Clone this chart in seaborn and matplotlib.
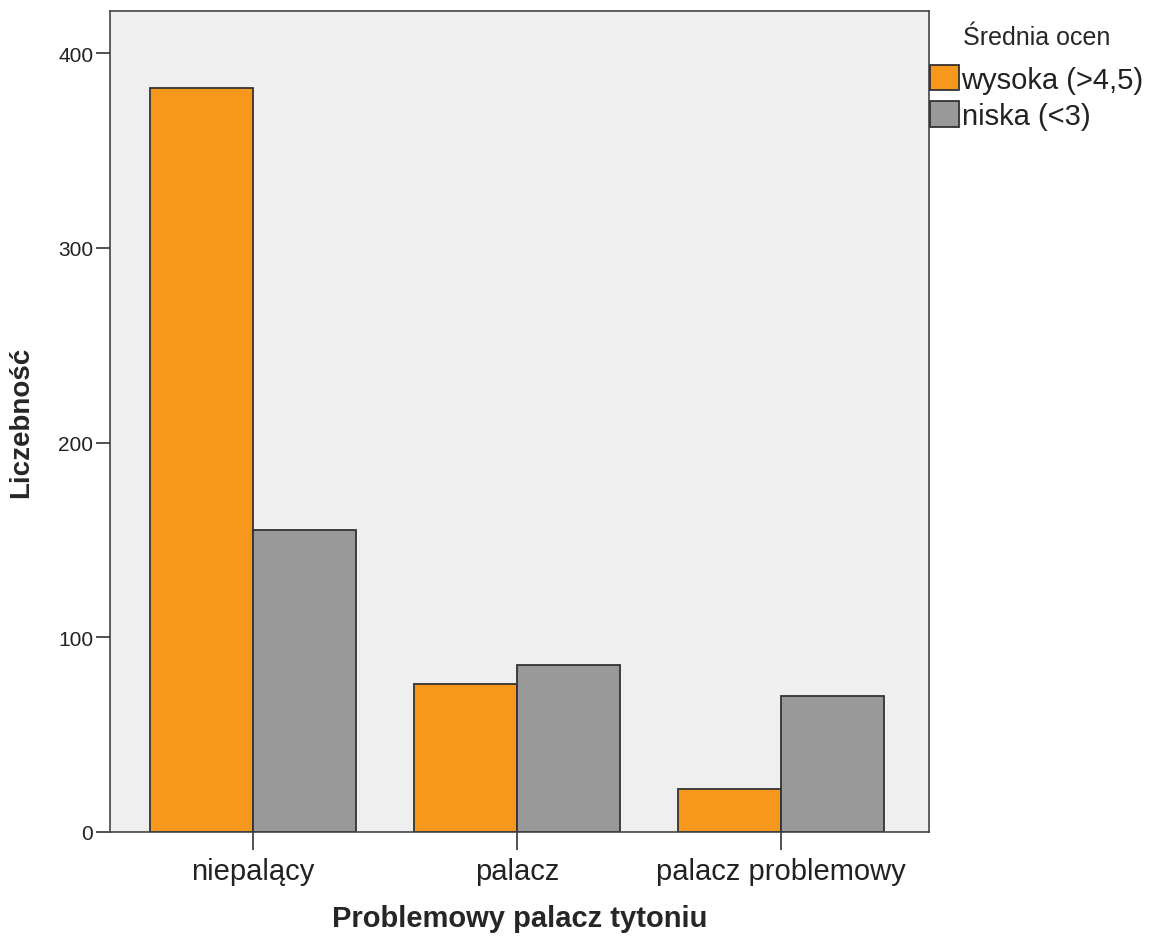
import pandas as pd
import matplotlib
import matplotlib.pyplot as plt
import seaborn as sns

matplotlib.use('Agg')

# dane
kategorie = ["niepalący", "palacz", "palacz problemowy"]
grupy = ["wysoka (>4,5)", "niska (<3)"]
wysoka = [382, 76, 22]
niska = [155, 86, 70]

df = pd.DataFrame({
    "Problemowy palacz tytoniu": kategorie * 2,
    "Średnia ocen": [grupy[0]] * 3 + [grupy[1]] * 3,
    "Liczebność": wysoka + niska,
})

sns.set_style("ticks")
plt.rcParams['font.family'] = ['Liberation Sans', 'DejaVu Sans']

fig = plt.figure(figsize=(11.55, 9.37), dpi=100)
ax = fig.add_axes([0.0952, 0.111, 0.709, 0.876])
ax.set_facecolor("#EFEFEF")

sns.barplot(data=df, x="Problemowy palacz tytoniu", y="Liczebność", hue="Średnia ocen",
            palette=["#F7981D", "#999999"], saturation=1, width=0.78, gap=0,
            edgecolor="#333333", linewidth=1.3, ax=ax)

ax.set_ylim(0, 421.6)
ax.set_xlim(-0.542, 2.56)
ax.set_yticks([0, 100, 200, 300, 400])
ax.tick_params(axis="y", labelsize=15, length=10, width=1.2, pad=2,
               color="#333333", labelcolor="#222222")
ax.tick_params(axis="x", labelsize=21, length=13, width=1.2, pad=5,
               color="#333333", labelcolor="#222222")
for s in ax.spines.values():
    s.set_visible(True)
    s.set_color("#444444")
    s.set_linewidth(1.2)

ax.set_xlabel("Problemowy palacz tytoniu", fontsize=21, fontweight="bold", labelpad=14)
ax.set_ylabel("Liczebność", fontsize=20, fontweight="bold", labelpad=17)

leg = ax.legend(title="Średnia ocen", loc="upper left", bbox_to_anchor=(1.0, 0.985),
                frameon=False, fontsize=21, title_fontsize=18, handlelength=0.97,
                handleheight=0.97, handletextpad=0.1, labelspacing=0.26,
                borderaxespad=0.0, borderpad=0.05)
leg._legend_box.sep = 11.5
for t in leg.get_texts():
    t.set_color("#222222")

fig.savefig("out.png", dpi=100)
plt.close()
